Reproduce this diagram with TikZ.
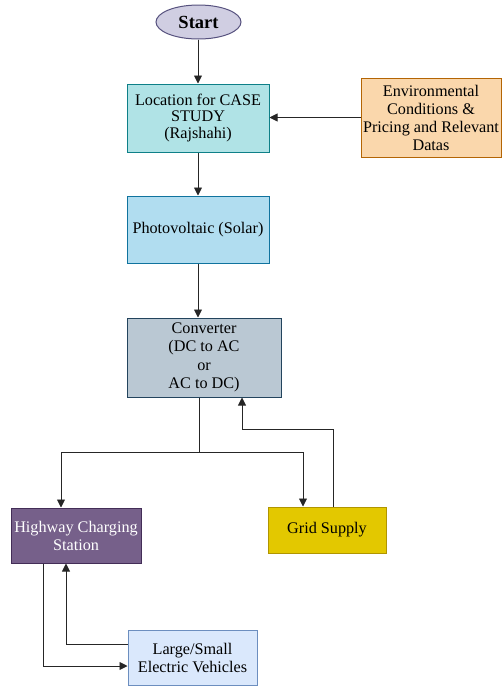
\documentclass[tikz,border=0pt]{standalone}
\usepackage{fontspec}
\setmainfont{Liberation Serif}
\usetikzlibrary{shapes.geometric,arrows.meta}
\definecolor{startfill}{HTML}{D0CEE2}\definecolor{startdraw}{HTML}{56517E}
\definecolor{locfill}{HTML}{B0E3E6}\definecolor{locdraw}{HTML}{0E8088}
\definecolor{pvfill}{HTML}{B1DDF0}\definecolor{pvdraw}{HTML}{10739E}
\definecolor{convfill}{HTML}{BAC8D3}\definecolor{convdraw}{HTML}{23445D}
\definecolor{envfill}{HTML}{FAD7AC}\definecolor{envdraw}{HTML}{B46504}
\definecolor{hcsfill}{HTML}{76608A}\definecolor{hcsdraw}{HTML}{432D57}
\definecolor{gridfill}{HTML}{E3C800}\definecolor{griddraw}{HTML}{B09500}
\definecolor{evfill}{HTML}{DAE8FC}\definecolor{evdraw}{HTML}{6C8EBF}
\tikzset{
  box/.style={rectangle, draw, line width=1pt, inner sep=0pt, align=center,
    font=\rmfamily\fontsize{16.2}{18}\selectfont},
  conn/.style={draw=black!85, line width=0.9pt, -{Triangle[length=8pt,width=8pt]}},
  plain/.style={draw=black!85, line width=0.9pt}
}
\begin{document}
\begin{tikzpicture}[x=1pt,y=-1pt]
\path[use as bounding box] (0,0) rectangle (502,686);
\node[ellipse, draw=startdraw, fill=startfill, line width=1pt, minimum width=85pt, minimum height=34pt, inner sep=0pt, font=\rmfamily\fontsize{18.5}{19}\selectfont\bfseries] (start) at (198.5,22) {Start};
\node[box, draw=locdraw, fill=locfill, minimum width=142pt, minimum height=68pt, font=\rmfamily\fontsize{16.2}{16.8}\selectfont] (loc) at (198,118) {Location for CASE\\STUDY\\(Rajshahi)};
\node[box, draw=envdraw, fill=envfill, minimum width=140pt, minimum height=79pt] (env) at (431,117.5) {Environmental\\Conditions \&\\Pricing and Relevant\\Datas};
\node[box, draw=pvdraw, fill=pvfill, minimum width=142pt, minimum height=67pt] (pv) at (198,229.5) {Photovoltaic (Solar)};
\node[box, draw=convdraw, fill=convfill, minimum width=154pt, minimum height=79pt, font=\rmfamily\fontsize{16.2}{18.5}\selectfont] (conv) at (204,357.5) {Converter\\(DC to AC\\or\\AC to DC)};
\node[box, draw=hcsdraw, fill=hcsfill, text=white, minimum width=130pt, minimum height=55pt] (hcs) at (76,535.5) {Highway Charging\\Station};
\node[box, draw=griddraw, fill=gridfill, minimum width=118pt, minimum height=46pt] (grid) at (327,530) {Grid Supply};
\node[box, draw=evdraw, fill=evfill, minimum width=129pt, minimum height=55pt] (ev) at (192.5,657.5) {Large/Small\\Electric Vehicles};
\coordinate (sp) at (199,452);
\draw[conn] (start.south -| loc.north) -- (loc.north);
\draw[conn] (env.west) -- (env.west -| loc.east);
\draw[conn] (loc.south) -- (pv.north);
\draw[conn] (pv.south) -- (pv.south |- conv.north);
\draw[plain] (sp |- conv.south) -- (sp);
\draw[conn] (sp) -| ([xshift=-15pt]hcs.north);
\draw[conn] (sp) -| ([xshift=-24pt]grid.north);
\draw[conn] ([xshift=6pt]grid.north) -- ++(0,-77) -| ([xshift=38pt]conv.south);
\draw[conn] ([xshift=-33pt]hcs.south) |- ([yshift=-8.5pt]ev.west);
\draw[conn] ([yshift=13.5pt]ev.west) -| ([xshift=-10pt]hcs.south);
\end{tikzpicture}
\end{document}
